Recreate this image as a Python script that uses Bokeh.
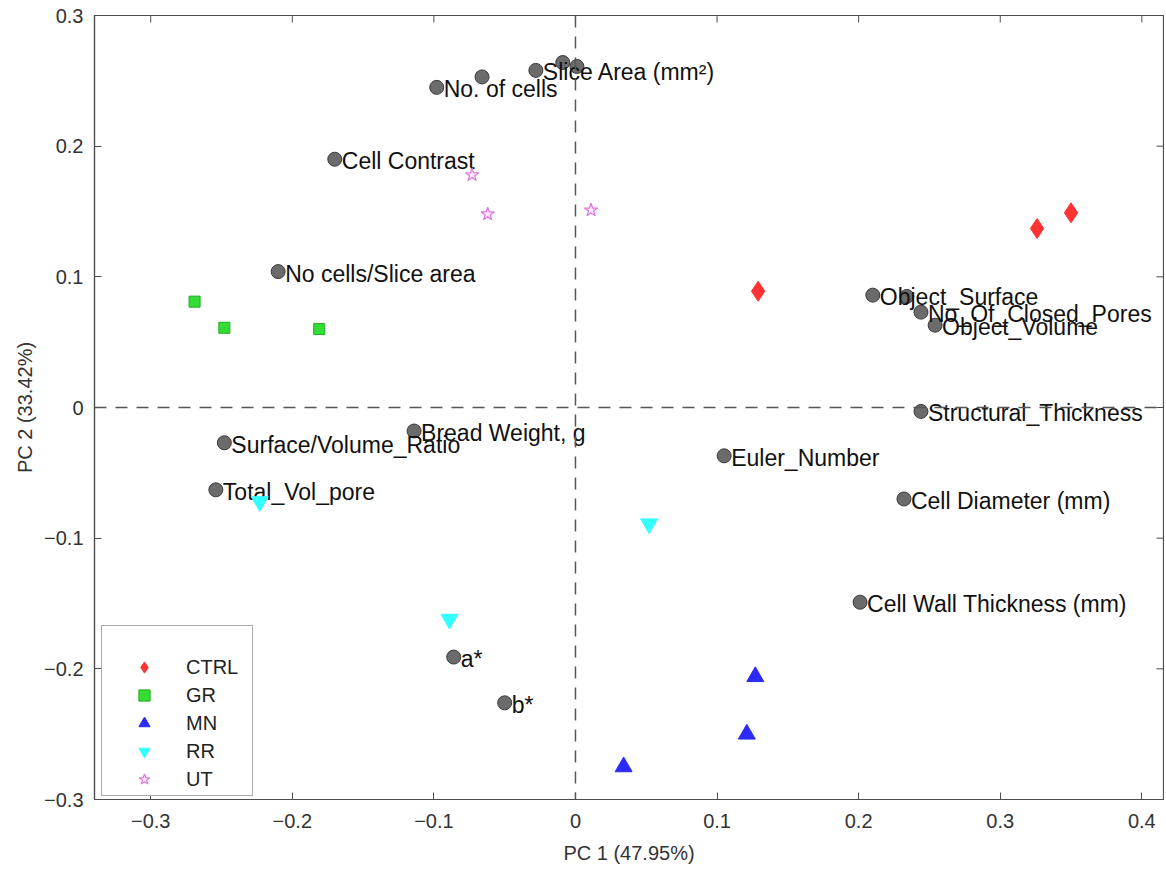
import math
from bokeh.plotting import figure
from bokeh.models import ColumnDataSource, Span, FixedTicker, Legend, LegendItem
from bokeh.embed import file_html
from bokeh.resources import INLINE

# ---- data ----
var_names = ["No. of cells", "", "Slice Area (mm²)", "", "", "Cell Contrast",
             "No cells/Slice area", "Object_Surface", "", "No_Of_Closed_Pores",
             "Object_Volume", "Structural_Thickness", "Bread Weight, g",
             "Surface/Volume_Ratio", "Total_Vol_pore", "Euler_Number",
             "Cell Diameter (mm)", "Cell Wall Thickness (mm)", "a*", "b*"]
var_pc1 = [-0.098, -0.066, -0.028, -0.009, 0.001, -0.170, -0.210, 0.210, 0.234, 0.244,
           0.254, 0.244, -0.114, -0.248, -0.254, 0.105, 0.232, 0.201, -0.086, -0.050]
var_pc2 = [0.245, 0.253, 0.258, 0.264, 0.261, 0.190, 0.104, 0.086, 0.085, 0.073,
           0.063, -0.003, -0.018, -0.027, -0.063, -0.037, -0.070, -0.149, -0.191, -0.226]

ctrl_pc1 = [0.350, 0.326, 0.129]
ctrl_pc2 = [0.149, 0.137, 0.089]
gr_pc1 = [-0.269, -0.248, -0.181]
gr_pc2 = [0.081, 0.061, 0.060]
mn_pc1 = [0.127, 0.121, 0.034]
mn_pc2 = [-0.206, -0.250, -0.275]
rr_pc1 = [-0.223, -0.089, 0.052]
rr_pc2 = [-0.072, -0.162, -0.089]
ut_pc1 = [-0.073, -0.062, 0.011]
ut_pc2 = [0.178, 0.148, 0.151]

x_ticks = [-0.3, -0.2, -0.1, 0.0, 0.1, 0.2, 0.3, 0.4]
y_ticks = [-0.3, -0.2, -0.1, 0.0, 0.1, 0.2, 0.3]
x_label = "PC 1 (47.95%)"
y_label = "PC 2 (33.42%)"

X_START, X_END = -0.3397, 0.4153
Y_START, Y_END = -0.3, 0.3

FONT = "Liberation Sans"
AX = "#4d4d4d"

p = figure(width=1164, height=866, output_backend="svg", toolbar_location=None,
           x_range=(X_START, X_END), y_range=(Y_START, Y_END),
           min_border_left=94, min_border_right=1, min_border_top=15, min_border_bottom=66,
           x_axis_label=x_label, y_axis_label=y_label)
p.grid.visible = False
p.outline_line_color = AX
p.outline_line_width = 1.2
p.background_fill_color = "white"
p.border_fill_color = "white"

for ax, ticks in ((p.xaxis[0], x_ticks), (p.yaxis[0], y_ticks)):
    ax.ticker = FixedTicker(ticks=ticks)
    ax.major_label_overrides = {0.0: "0"}
    ax.major_tick_in = 7
    ax.major_tick_out = 0
    ax.minor_tick_line_color = None
    ax.axis_line_color = AX
    ax.axis_line_width = 1.2
    ax.major_tick_line_color = AX
    ax.major_label_text_font = FONT
    ax.major_label_text_font_size = "20px"
    ax.major_label_text_color = "#333333"
    ax.axis_label_text_font = FONT
    ax.axis_label_text_font_size = "20px"
    ax.axis_label_text_font_style = "normal"
    ax.axis_label_text_color = "#333333"
p.xaxis[0].major_label_standoff = 14
p.xaxis[0].axis_label_standoff = 11
p.yaxis[0].major_label_standoff = 11
p.yaxis[0].axis_label_standoff = 5

# inward ticks on top and right edges of the box
p.ray(x=x_ticks, y=[Y_END] * len(x_ticks), length=7, length_units="screen",
      angle=-math.pi / 2, line_color=AX, line_width=1)
p.ray(x=[X_END] * len(y_ticks), y=y_ticks, length=7, length_units="screen",
      angle=math.pi, line_color=AX, line_width=1)

p.add_layout(Span(location=0, dimension="height", line_color="#555555",
                  line_dash="12 9", line_width=1.5))
p.add_layout(Span(location=0, dimension="width", line_color="#555555",
                  line_dash="12 9", line_width=1.5))

vsrc = ColumnDataSource(dict(x=var_pc1, y=var_pc2))
p.scatter("x", "y", source=vsrc, size=14, fill_color="#6b6b6b", line_color="#3a3a3a", line_width=1)

lab_idx = [i for i, n in enumerate(var_names) if n]
lsrc = ColumnDataSource(dict(x=[var_pc1[i] for i in lab_idx], y=[var_pc2[i] for i in lab_idx],
                             t=[var_names[i] for i in lab_idx]))
p.text("x", "y", text="t", source=lsrc, x_offset=7, y_offset=2, text_baseline="middle",
       text_align="left", text_font_size="23px", text_color="#111111",
       text_font={"value": FONT})

r_ctrl = p.scatter(ctrl_pc1, ctrl_pc2, marker="diamond", size=20, fill_color="#ff3333",
                   line_color="#ff3333")
r_gr = p.scatter(gr_pc1, gr_pc2, marker="square", size=11, fill_color="#33dd33",
                 line_color="#22aa22")
r_mn = p.scatter(mn_pc1, mn_pc2, marker="triangle", size=17, fill_color="#2b2bf5",
                 line_color="#2b2bf5")
r_rr = p.scatter(rr_pc1, rr_pc2, marker="inverted_triangle", size=17, fill_color="#33ffff",
                 line_color="#33ffff")
r_ut = p.scatter(ut_pc1, ut_pc2, marker="star", size=14, fill_color="#fbe6fb",
                 line_color="#dd77dd", line_width=1.2)

legend = Legend(items=[LegendItem(label="CTRL", renderers=[r_ctrl]),
                       LegendItem(label="GR", renderers=[r_gr]),
                       LegendItem(label="MN", renderers=[r_mn]),
                       LegendItem(label="RR", renderers=[r_rr]),
                       LegendItem(label="UT", renderers=[r_ut])],
                location=(7, 3), title=" ", title_text_font_size="14px", title_standoff=9,
                padding=2, margin=0, spacing=0, glyph_height=28, label_height=28,
                glyph_width=80, label_width=64, label_standoff=2,
                label_text_font=FONT, label_text_font_size="20px", label_text_color="#222222",
                border_line_color="#555555", border_line_width=1.2,
                background_fill_color="white", background_fill_alpha=1)
p.add_layout(legend, "center")

open("out.html", "w").write(file_html(p, INLINE))
